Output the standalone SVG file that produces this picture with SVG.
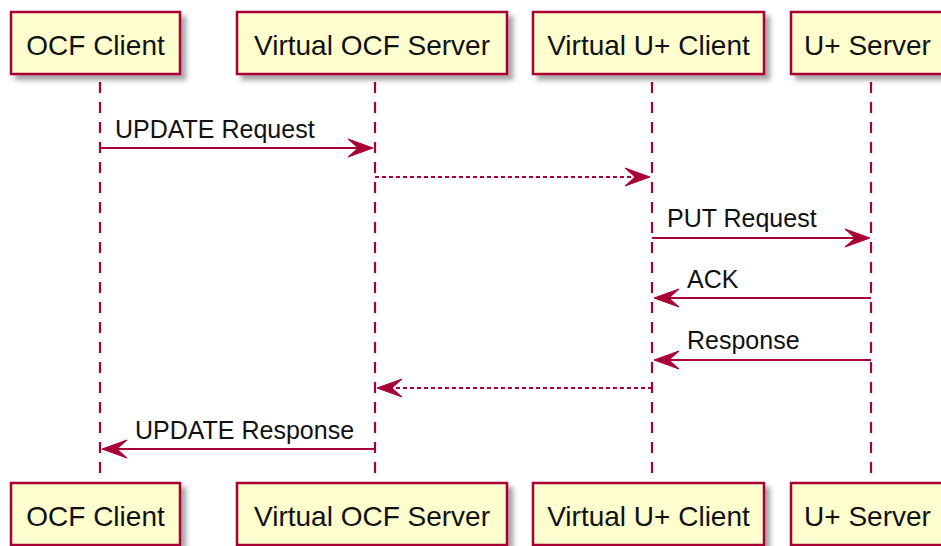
<svg xmlns="http://www.w3.org/2000/svg" width="941" height="546" viewBox="0 0 941 546">
<defs>
<style>
.box{fill:#FEFECE;stroke:#A80036;stroke-width:2.5}
.pt{font-family:"Liberation Sans",Arial,sans-serif;font-size:28px;fill:#111;text-anchor:middle}
.msg{font-family:"Liberation Sans",Arial,sans-serif;font-size:25px;fill:#111}
.life{stroke:#A80036;stroke-width:2.2;stroke-dasharray:11,9;fill:none}
.ln{stroke:#A80036;stroke-width:2;fill:none}
.dash{stroke-dasharray:4,3}
.head{fill:#A80036;stroke:#A80036;stroke-width:1}
</style>
<filter id="sh" x="-10%" y="-20%" width="130%" height="160%">
<feGaussianBlur in="SourceAlpha" stdDeviation="2.5"/>
<feOffset dx="5" dy="5" result="b"/>
<feFlood flood-color="#000" flood-opacity="0.35"/>
<feComposite in2="b" operator="in"/>
<feMerge><feMergeNode/><feMergeNode in="SourceGraphic"/></feMerge>
</filter>
</defs>
<rect width="941" height="546" fill="#fff"/>
<g id="lifelines">
<line class="life" x1="100" y1="82" x2="100" y2="478"/>
<line class="life" x1="375" y1="82" x2="375" y2="478"/>
<line class="life" x1="652" y1="82" x2="652" y2="478"/>
<line class="life" x1="871" y1="82" x2="871" y2="478"/>
</g>
<g id="p-ocf-client">
<rect class="box" filter="url(#sh)" x="11" y="12" width="169" height="62"/>
<text class="pt" x="95.5" y="55">OCF Client</text>
<rect class="box" filter="url(#sh)" x="11" y="483" width="169" height="62"/>
<text class="pt" x="95.5" y="526">OCF Client</text>
</g>
<g id="p-virtual-ocf-server">
<rect class="box" filter="url(#sh)" x="237" y="12" width="270" height="62"/>
<text class="pt" x="372" y="55">Virtual OCF Server</text>
<rect class="box" filter="url(#sh)" x="237" y="483" width="270" height="62"/>
<text class="pt" x="372" y="526">Virtual OCF Server</text>
</g>
<g id="p-virtual-uplus-client">
<rect class="box" filter="url(#sh)" x="533" y="12" width="231" height="62"/>
<text class="pt" x="648.5" y="55">Virtual U+ Client</text>
<rect class="box" filter="url(#sh)" x="533" y="483" width="231" height="62"/>
<text class="pt" x="648.5" y="526">Virtual U+ Client</text>
</g>
<g id="p-uplus-server">
<rect class="box" filter="url(#sh)" x="791" y="12" width="153" height="62"/>
<text class="pt" x="867.5" y="55">U+ Server</text>
<rect class="box" filter="url(#sh)" x="791" y="483" width="153" height="62"/>
<text class="pt" x="867.5" y="526">U+ Server</text>
</g>
<g id="connectors">
<line class="ln" x1="100" y1="148" x2="365" y2="148"/>
<polygon class="head" points="373,148 348,139 358,148 348,157"/>
<text class="msg" x="115" y="138">UPDATE Request</text>

<line class="ln dash" x1="375" y1="177" x2="642" y2="177"/>
<polygon class="head" points="650,177 625,168 635,177 625,186"/>

<line class="ln" x1="652" y1="238" x2="862" y2="238"/>
<polygon class="head" points="870,238 845,229 855,238 845,247"/>
<text class="msg" x="667" y="227">PUT Request</text>

<line class="ln" x1="871" y1="298" x2="662" y2="298"/>
<polygon class="head" points="654,298 679,289 669,298 679,307"/>
<text class="msg" x="687" y="288">ACK</text>

<line class="ln" x1="871" y1="360" x2="662" y2="360"/>
<polygon class="head" points="654,360 679,351 669,360 679,369"/>
<text class="msg" x="687" y="349">Response</text>

<line class="ln dash" x1="652" y1="388" x2="385" y2="388"/>
<polygon class="head" points="377,388 402,379 392,388 402,397"/>

<line class="ln" x1="375" y1="449" x2="110" y2="449"/>
<polygon class="head" points="102,449 127,440 117,449 127,458"/>
<text class="msg" x="135" y="439">UPDATE Response</text>
</g>
</svg>
